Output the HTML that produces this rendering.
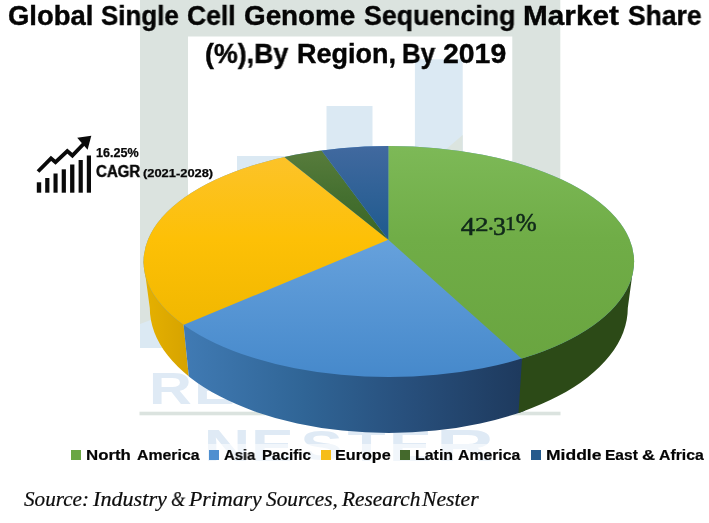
<!DOCTYPE html>
<html><head><meta charset="utf-8">
<style>
html,body{margin:0;padding:0;background:#fff;}
body{width:709px;height:523px;position:relative;overflow:hidden;font-family:"Liberation Sans",sans-serif;}
.abs{position:absolute;white-space:nowrap;line-height:1;will-change:transform;}
.sw{position:absolute;width:10px;height:10.2px;top:449.9px;}
</style></head><body>
<svg class="abs" style="left:0;top:0" width="709" height="523" viewBox="0 0 709 523">
<defs>
<clipPath id="topc"><ellipse cx="388.8" cy="261.5" rx="245.3" ry="115.5"/></clipPath>
<clipPath id="hull"><path d="M143.5,261.5 L149.8,308 A239,125 0 0 0 627.8,308 L634.1,261.5 Z"/></clipPath>
<linearGradient id="gBlueSide" gradientUnits="userSpaceOnUse" x1="186" y1="0" x2="520" y2="0">
<stop offset="0" stop-color="#407ab3"/><stop offset="0.35" stop-color="#306596"/><stop offset="0.65" stop-color="#28507d"/><stop offset="1" stop-color="#1e3a5e"/></linearGradient>
<linearGradient id="gYelSide" gradientUnits="userSpaceOnUse" x1="143" y1="0" x2="188" y2="0">
<stop offset="0" stop-color="#e6b100"/><stop offset="1" stop-color="#d6a300"/></linearGradient>
<linearGradient id="gGreen" gradientUnits="userSpaceOnUse" x1="0" y1="146" x2="0" y2="377">
<stop offset="0" stop-color="#7db957"/><stop offset="0.4" stop-color="#70ad47"/><stop offset="1" stop-color="#69a43f"/></linearGradient>
<linearGradient id="gBlue" gradientUnits="userSpaceOnUse" x1="0" y1="240" x2="0" y2="377">
<stop offset="0" stop-color="#66a1dc"/><stop offset="1" stop-color="#4689cb"/></linearGradient>
<linearGradient id="gYel" gradientUnits="userSpaceOnUse" x1="0" y1="150" x2="0" y2="330">
<stop offset="0" stop-color="#fcc32c"/><stop offset="0.5" stop-color="#fdc006"/><stop offset="1" stop-color="#f0b700"/></linearGradient>
<linearGradient id="gDG" gradientUnits="userSpaceOnUse" x1="0" y1="150" x2="0" y2="240"><stop offset="0" stop-color="#587c3c"/><stop offset="0.5" stop-color="#457030"/><stop offset="1" stop-color="#3b6526"/></linearGradient>
<linearGradient id="gDB" gradientUnits="userSpaceOnUse" x1="0" y1="146" x2="0" y2="240">
<stop offset="0" stop-color="#41699f"/><stop offset="1" stop-color="#1e5a8e"/></linearGradient>
</defs>
<!-- watermark logo -->
<g>
<rect x="140" y="0" width="420" height="36.5" fill="#dbe3df"/>
<rect x="140" y="300" width="48" height="48" fill="#dbe9f3"/>
<polygon points="140,0 188,0 188,306 140,324" fill="#dbe3df"/>
<rect x="512.3" y="0" width="48" height="180" fill="#dbe3df"/>
<rect x="237" y="156" width="50.5" height="100" fill="#dbe9f3"/>
<rect x="326.5" y="106" width="46" height="100" fill="#dbe9f3"/>
<rect x="414.9" y="59.3" width="47.8" height="120" fill="#dbe9f3"/>
<rect x="139.5" y="411.7" width="421" height="3.6" fill="#dbe3df"/>
<polygon points="462.7,135 462.7,151 444,151" fill="#dbe4df"/>
</g>
<g id="wm"><text transform="matrix(0.5932 0 0 0.4409 148.89 403.70)" font-family="'Liberation Sans',sans-serif" font-weight="bold" font-size="100" fill="#dfeaf5">R</text><text transform="matrix(0.6106 0 0 0.4409 193.88 403.70)" font-family="'Liberation Sans',sans-serif" font-weight="bold" font-size="100" fill="#dfeaf5">E</text><text transform="matrix(0.5920 0 0 0.4313 239.07 403.03)" font-family="'Liberation Sans',sans-serif" font-weight="bold" font-size="100" fill="#dfeaf5">S</text><text transform="matrix(0.6054 0 0 0.4409 280.22 403.70)" font-family="'Liberation Sans',sans-serif" font-weight="bold" font-size="100" fill="#dfeaf5">E</text><text transform="matrix(0.5818 0 0 0.4409 324.09 403.70)" font-family="'Liberation Sans',sans-serif" font-weight="bold" font-size="100" fill="#dfeaf5">A</text><text transform="matrix(0.5932 0 0 0.4409 367.29 403.70)" font-family="'Liberation Sans',sans-serif" font-weight="bold" font-size="100" fill="#dfeaf5">R</text><text transform="matrix(0.5507 0 0 0.4313 413.28 403.03)" font-family="'Liberation Sans',sans-serif" font-weight="bold" font-size="100" fill="#dfeaf5">C</text><text transform="matrix(0.6232 0 0 0.4409 455.11 403.70)" font-family="'Liberation Sans',sans-serif" font-weight="bold" font-size="100" fill="#dfeaf5">H</text><text transform="matrix(0.6434 0 0 0.4409 203.68 461.00)" font-family="'Liberation Sans',sans-serif" font-weight="bold" font-size="100" fill="#dfeaf5">N</text><text transform="matrix(0.6400 0 0 0.4409 251.00 461.00)" font-family="'Liberation Sans',sans-serif" font-weight="bold" font-size="100" fill="#dfeaf5">E</text><text transform="matrix(0.6320 0 0 0.4313 300.51 460.33)" font-family="'Liberation Sans',sans-serif" font-weight="bold" font-size="100" fill="#dfeaf5">S</text><text transform="matrix(0.6236 0 0 0.4409 347.50 461.00)" font-family="'Liberation Sans',sans-serif" font-weight="bold" font-size="100" fill="#dfeaf5">T</text><text transform="matrix(0.6400 0 0 0.4409 389.00 461.00)" font-family="'Liberation Sans',sans-serif" font-weight="bold" font-size="100" fill="#dfeaf5">E</text><text transform="matrix(0.8055 0 0 0.4409 435.97 461.00)" font-family="'Liberation Sans',sans-serif" font-weight="bold" font-size="100" fill="#dfeaf5">R</text></g>
<!-- side -->
<g clip-path="url(#hull)">
<polygon points="100,200 180.1,290 183.6,324.9 188.8,376.5 195,438 100,438" fill="url(#gYelSide)"/>
<polygon points="180.1,290 183.6,324.9 188.8,376.5 195,438 525,438 525,320" fill="url(#gBlueSide)"/>
<polygon points="524,320 522,359 518.5,413 515,438 700,438 700,200" fill="#2c4a17"/>
</g>
<!-- top -->
<g clip-path="url(#topc)">
<rect x="140" y="140" width="500" height="240" fill="url(#gBlue)"/>
<polygon points="388.3,239.8 388.3,100 800,100 800,537.8 722.5,537.8" fill="url(#gGreen)"/>
<polygon points="388.3,239.8 -21,410 -21,60 181.7,75.2" fill="url(#gYel)"/>
<polygon points="388.3,239.8 181.7,75.2 255.7,62.2" fill="url(#gDG)"/>
<polygon points="388.3,239.8 255.7,62.2 388.3,60" fill="url(#gDB)"/>
</g>
<!-- icon -->
<g fill="#0a0a0a">
<rect x="36.8" y="182.3" width="4.4" height="10.4"/>
<rect x="45.2" y="178" width="4.2" height="14.7"/>
<rect x="53.5" y="173.5" width="4.1" height="19.2"/>
<rect x="61.7" y="169.3" width="4.2" height="23.4"/>
<rect x="70.1" y="164.5" width="4.3" height="28.2"/>
<rect x="78.6" y="160" width="4.2" height="32.7"/>
<rect x="86.8" y="155.5" width="4.2" height="37.2"/>
<polyline points="38,171.5 51,158.3 55.5,162.2 67.3,151 72.4,155.5 84,143.5" fill="none" stroke="#0a0a0a" stroke-width="3.8" stroke-linejoin="miter"/>
<polygon points="77.2,137.7 91.3,135.7 87.6,149.8"/>
</g>
<g id="lbl"><text transform="matrix(0.2859 0 0 0.2590 460.85 235.10)" font-family="'Liberation Serif',serif" font-size="100" fill="#10281a" stroke="#10281a" stroke-width="2.2">4</text><text transform="matrix(0.2726 0 0 0.1846 475.05 230.50)" font-family="'Liberation Serif',serif" font-size="100" fill="#10281a" stroke="#10281a" stroke-width="2.2">2</text><text transform="matrix(0.2480 0 0 0.2400 487.75 230.22)" font-family="'Liberation Serif',serif" font-size="100" fill="#10281a" stroke="#10281a" stroke-width="2.2">.</text><text transform="matrix(0.2560 0 0 0.2473 493.10 234.71)" font-family="'Liberation Serif',serif" font-size="100" fill="#10281a" stroke="#10281a" stroke-width="2.2">3</text><text transform="matrix(0.2160 0 0 0.1801 504.91 230.40)" font-family="'Liberation Serif',serif" font-size="100" fill="#10281a" stroke="#10281a" stroke-width="2.2">1</text><text transform="matrix(0.2509 0 0 0.2531 515.82 230.60)" font-family="'Liberation Serif',serif" font-size="100" fill="#10281a" stroke="#10281a" stroke-width="2.2">%</text></g>
</svg>
<div style="position:absolute;left:64px;top:444px;width:645px;height:21px;background:rgba(255,255,255,0.55)"></div>
<div class="sw" style="left:70.9px;background:#6aa644"></div>
<div class="sw" style="left:209.3px;background:#4f8fd0"></div>
<div class="sw" style="left:320.6px;width:10.3px;background:#f6bd1a"></div>
<div class="sw" style="left:400.3px;background:#44692c"></div>
<div class="sw" style="left:531.3px;background:#255a8c"></div>
<div class="abs" style="left:7.64px;top:3px;font-family:'Liberation Sans',sans-serif;font-weight:bold;font-style:normal;font-size:27px;color:#050505;-webkit-text-stroke:0.4px #050505;transform-origin:0 0;transform:scaleX(1.0163)">Global</div>
<div class="abs" style="left:100.90px;top:3px;font-family:'Liberation Sans',sans-serif;font-weight:bold;font-style:normal;font-size:27px;color:#050505;-webkit-text-stroke:0.4px #050505;transform-origin:0 0;transform:scaleX(0.9597)">Single</div>
<div class="abs" style="left:187.37px;top:3px;font-family:'Liberation Sans',sans-serif;font-weight:bold;font-style:normal;font-size:27px;color:#050505;-webkit-text-stroke:0.4px #050505;transform-origin:0 0;transform:scaleX(0.9813)">Cell</div>
<div class="abs" style="left:243.63px;top:3px;font-family:'Liberation Sans',sans-serif;font-weight:bold;font-style:normal;font-size:27px;color:#050505;-webkit-text-stroke:0.4px #050505;transform-origin:0 0;transform:scaleX(1.0299)">Genome</div>
<div class="abs" style="left:363.98px;top:3px;font-family:'Liberation Sans',sans-serif;font-weight:bold;font-style:normal;font-size:27px;color:#050505;-webkit-text-stroke:0.4px #050505;transform-origin:0 0;transform:scaleX(0.9896)">Sequencing</div>
<div class="abs" style="left:523.24px;top:3px;font-family:'Liberation Sans',sans-serif;font-weight:bold;font-style:normal;font-size:27px;color:#050505;-webkit-text-stroke:0.4px #050505;transform-origin:0 0;transform:scaleX(1.1019)">Market</div>
<div class="abs" style="left:628.19px;top:3px;font-family:'Liberation Sans',sans-serif;font-weight:bold;font-style:normal;font-size:27px;color:#050505;-webkit-text-stroke:0.4px #050505;transform-origin:0 0;transform:scaleX(0.9804)">Share</div>
<div class="abs" style="left:205.05px;top:41px;font-family:'Liberation Sans',sans-serif;font-weight:bold;font-style:normal;font-size:27px;color:#050505;-webkit-text-stroke:0.4px #050505;transform-origin:0 0;transform:scaleX(0.9914)">(%),By</div>
<div class="abs" style="left:297.01px;top:41px;font-family:'Liberation Sans',sans-serif;font-weight:bold;font-style:normal;font-size:27px;color:#050505;-webkit-text-stroke:0.4px #050505;transform-origin:0 0;transform:scaleX(0.9999)">Region,</div>
<div class="abs" style="left:402.48px;top:41px;font-family:'Liberation Sans',sans-serif;font-weight:bold;font-style:normal;font-size:27px;color:#050505;-webkit-text-stroke:0.4px #050505;transform-origin:0 0;transform:scaleX(0.9576)">By</div>
<div class="abs" style="left:443.11px;top:41px;font-family:'Liberation Sans',sans-serif;font-weight:bold;font-style:normal;font-size:27px;color:#050505;-webkit-text-stroke:0.4px #050505;transform-origin:0 0;transform:scaleX(1.0521)">2019</div>
<div class="abs" style="left:96.27px;top:147px;font-family:'Liberation Sans',sans-serif;font-weight:bold;font-style:normal;font-size:12px;color:#080808;-webkit-text-stroke:0.25px #080808;transform-origin:0 0;transform:scaleX(1.0471)">16.25%</div>
<div class="abs" style="left:96.43px;top:164px;font-family:'Liberation Sans',sans-serif;font-weight:bold;font-style:normal;font-size:15.8px;color:#080808;-webkit-text-stroke:0.45px #080808;transform-origin:0 0;transform:scaleX(0.9515)">CAGR</div>
<div class="abs" style="left:142.94px;top:168px;font-family:'Liberation Sans',sans-serif;font-weight:bold;font-style:normal;font-size:11.5px;color:#080808;-webkit-text-stroke:0.25px #080808;transform-origin:0 0;transform:scaleX(1.1197)">(2021-2028)</div>
<div class="abs" style="left:85.69px;top:447px;font-family:'Liberation Sans',sans-serif;font-weight:bold;font-style:normal;font-size:15.1px;color:#050505;-webkit-text-stroke:0.2px #050505;transform-origin:0 0;transform:scaleX(1.1139)">North</div>
<div class="abs" style="left:136.58px;top:447px;font-family:'Liberation Sans',sans-serif;font-weight:bold;font-style:normal;font-size:15.1px;color:#050505;-webkit-text-stroke:0.2px #050505;transform-origin:0 0;transform:scaleX(1.0505)">America</div>
<div class="abs" style="left:224.21px;top:447px;font-family:'Liberation Sans',sans-serif;font-weight:bold;font-style:normal;font-size:15.1px;color:#050505;-webkit-text-stroke:0.2px #050505;transform-origin:0 0;transform:scaleX(0.9811)">Asia</div>
<div class="abs" style="left:262.40px;top:447px;font-family:'Liberation Sans',sans-serif;font-weight:bold;font-style:normal;font-size:15.1px;color:#050505;-webkit-text-stroke:0.2px #050505;transform-origin:0 0;transform:scaleX(1.0045)">Pacific</div>
<div class="abs" style="left:334.73px;top:447px;font-family:'Liberation Sans',sans-serif;font-weight:bold;font-style:normal;font-size:15.1px;color:#050505;-webkit-text-stroke:0.2px #050505;transform-origin:0 0;transform:scaleX(1.0709)">Europe</div>
<div class="abs" style="left:415.04px;top:447px;font-family:'Liberation Sans',sans-serif;font-weight:bold;font-style:normal;font-size:15.1px;color:#050505;-webkit-text-stroke:0.2px #050505;transform-origin:0 0;transform:scaleX(1.0572)">Latin</div>
<div class="abs" style="left:457.89px;top:447px;font-family:'Liberation Sans',sans-serif;font-weight:bold;font-style:normal;font-size:15.1px;color:#050505;-webkit-text-stroke:0.2px #050505;transform-origin:0 0;transform:scaleX(1.0455)">America</div>
<div class="abs" style="left:545.94px;top:447px;font-family:'Liberation Sans',sans-serif;font-weight:bold;font-style:normal;font-size:15.1px;color:#050505;-webkit-text-stroke:0.2px #050505;transform-origin:0 0;transform:scaleX(1.1594)">Middle</div>
<div class="abs" style="left:604.57px;top:447px;font-family:'Liberation Sans',sans-serif;font-weight:bold;font-style:normal;font-size:15.1px;color:#050505;-webkit-text-stroke:0.2px #050505;transform-origin:0 0;transform:scaleX(1.0303)">East</div>
<div class="abs" style="left:641.78px;top:447px;font-family:'Liberation Sans',sans-serif;font-weight:bold;font-style:normal;font-size:15.1px;color:#050505;-webkit-text-stroke:0.2px #050505;transform-origin:0 0;transform:scaleX(1.2020)">&amp;</div>
<div class="abs" style="left:658.89px;top:447px;font-family:'Liberation Sans',sans-serif;font-weight:bold;font-style:normal;font-size:15.1px;color:#050505;-webkit-text-stroke:0.2px #050505;transform-origin:0 0;transform:scaleX(1.0492)">Africa</div>
<div class="abs" style="left:23.69px;top:489px;font-family:'Liberation Serif',serif;font-weight:normal;font-style:italic;font-size:20px;color:#0c0c0c;-webkit-text-stroke:0.2px #0c0c0c;transform-origin:0 0;transform:scaleX(1.0570)">Source:</div>
<div class="abs" style="left:93.31px;top:489px;font-family:'Liberation Serif',serif;font-weight:normal;font-style:italic;font-size:20px;color:#0c0c0c;-webkit-text-stroke:0.2px #0c0c0c;transform-origin:0 0;transform:scaleX(1.1081)">Industry</div>
<div class="abs" style="left:170.98px;top:489px;font-family:'Liberation Serif',serif;font-weight:normal;font-style:italic;font-size:20px;color:#0c0c0c;-webkit-text-stroke:0.2px #0c0c0c;transform-origin:0 0;transform:scaleX(0.9048)">&amp;</div>
<div class="abs" style="left:188.72px;top:489px;font-family:'Liberation Serif',serif;font-weight:normal;font-style:italic;font-size:20px;color:#0c0c0c;-webkit-text-stroke:0.2px #0c0c0c;transform-origin:0 0;transform:scaleX(1.0915)">Primary</div>
<div class="abs" style="left:266.39px;top:489px;font-family:'Liberation Serif',serif;font-weight:normal;font-style:italic;font-size:20px;color:#0c0c0c;-webkit-text-stroke:0.2px #0c0c0c;transform-origin:0 0;transform:scaleX(1.0638)">Sources,</div>
<div class="abs" style="left:341.61px;top:489px;font-family:'Liberation Serif',serif;font-weight:normal;font-style:italic;font-size:20px;color:#0c0c0c;-webkit-text-stroke:0.2px #0c0c0c;transform-origin:0 0;transform:scaleX(1.0647)">Research</div>
<div class="abs" style="left:421.82px;top:489px;font-family:'Liberation Serif',serif;font-weight:normal;font-style:italic;font-size:20px;color:#0c0c0c;-webkit-text-stroke:0.2px #0c0c0c;transform-origin:0 0;transform:scaleX(1.0850)">Nester</div>
</body></html>
